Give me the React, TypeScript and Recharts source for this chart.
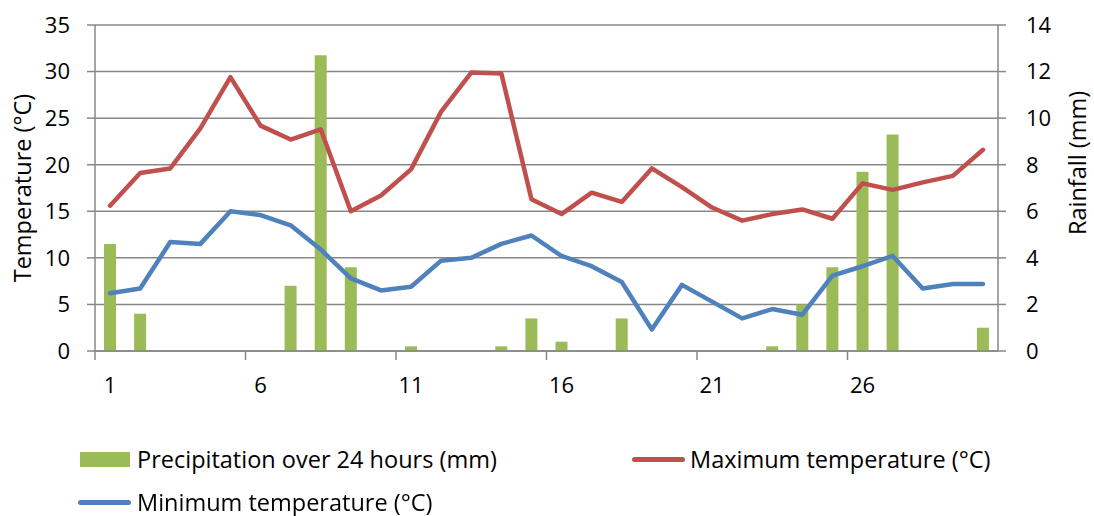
import { ComposedChart, Bar, Line, XAxis, YAxis, CartesianGrid } from 'recharts';

const DAYS = ['1', '2', '3', '4', '5', '6', '7', '8', '9', '10', '11', '12', '13', '14', '15', '16', '17', '18', '19', '20', '21', '22', '23', '24', '25', '26', '27', '28', '29', '30'];
const RAIN = [4.6, 1.6, 0, 0, 0, 0, 2.8, 12.7, 3.6, 0, 0.2, 0, 0, 0.2, 1.4, 0.4, 0, 1.4, 0, 0, 0, 0, 0.2, 2.0, 3.6, 7.7, 9.3, 0, 0, 1.0];
const MAX_TEMP = [15.6, 19.1, 19.6, 23.9, 29.4, 24.2, 22.7, 23.8, 15.0, 16.7, 19.5, 25.7, 29.9, 29.8, 16.3, 14.7, 17.0, 16.0, 19.6, 17.6, 15.4, 14.0, 14.7, 15.2, 14.2, 18.0, 17.3, 18.1, 18.8, 21.6];
const MIN_TEMP = [6.2, 6.7, 11.7, 11.5, 15.0, 14.6, 13.5, 10.9, 7.8, 6.5, 6.9, 9.7, 10.0, 11.5, 12.4, 10.2, 9.1, 7.4, 2.3, 7.1, 5.3, 3.5, 4.5, 3.9, 8.1, 9.1, 10.2, 6.7, 7.2, 7.2];
const TEMP_TICKS = [0, 5, 10, 15, 20, 25, 30, 35];
const RAIN_TICKS = [0, 2, 4, 6, 8, 10, 12, 14];

const GREEN = '#9BBB59';
const RED = '#C0504D';
const BLUE = '#4F81BD';
const GRID = '#878787';
const FONT = '"Open Sans", Lato, sans-serif';
const FS = 22; // tick labels
const FS_TXT = 23.5; // axis titles and legend

const data = DAYS.map((day, i) => ({ day, rain: RAIN[i], max: MAX_TEMP[i], min: MIN_TEMP[i] }));

// Excel style: label centred on the category, tick mark on the category boundary
const DayTick = (props: any) => {
  const { x, y, payload } = props;
  const band = 903 / DAYS.length;
  return (
    <g>
      <line x1={x - band / 2} x2={x - band / 2} y1={y - 8} y2={y + 1} stroke={GRID} strokeWidth={1.5} />
      <text x={x} y={y + 34} textAnchor="middle" fill="#000" fontSize={FS} fontFamily={FONT}>
        {payload.value}
      </text>
    </g>
  );
};

const legendRow = { position: 'absolute' as const, display: 'flex', alignItems: 'center', fontFamily: FONT, fontSize: FS_TXT, lineHeight: '28px', color: '#000' };

export default function App() {
  return (
    <div style={{ position: 'fixed', left: 0, top: 0, width: 1094, height: 516, background: '#fff' }}>
      <ComposedChart width={1094} height={516} data={data} margin={{ top: 25, right: 36, left: 35, bottom: 125 }}>
        <CartesianGrid yAxisId="temp" vertical={false} stroke={GRID} strokeWidth={1.5} />
        <XAxis
          dataKey="day"
          interval={4}
          height={40}
          tick={<DayTick />}
          tickLine={false}
          axisLine={{ stroke: GRID, strokeWidth: 1.5 }}
        />
        <YAxis
          yAxisId="temp"
          width={60}
          domain={[0, 35]}
          ticks={TEMP_TICKS}
          tickSize={8}
          tickMargin={17}
          tickLine={{ stroke: GRID, strokeWidth: 1.5 }}
          axisLine={{ stroke: GRID, strokeWidth: 1.5 }}
          tick={{ fill: '#000', fontSize: FS, fontFamily: FONT }}
          label={{ value: 'Temperature (°C)', angle: -90, position: 'insideLeft', dx: -17, dy: 0, style: { textAnchor: 'middle', fill: '#000', fontSize: FS_TXT, fontFamily: FONT } }}
        />
        <YAxis
          yAxisId="rain"
          orientation="right"
          width={60}
          domain={[0, 14]}
          ticks={RAIN_TICKS}
          tickSize={8}
          tickMargin={20}
          tickLine={{ stroke: GRID, strokeWidth: 1.5 }}
          axisLine={{ stroke: GRID, strokeWidth: 1.5 }}
          tick={{ fill: '#000', fontSize: FS, fontFamily: FONT, textAnchor: 'start' }}
          label={{ value: 'Rainfall (mm)', angle: -90, position: 'insideRight', dx: 25, dy: -25, style: { textAnchor: 'middle', fill: '#000', fontSize: FS_TXT, fontFamily: FONT } }}
        />
        <Bar yAxisId="rain" dataKey="rain" name="Precipitation over 24 hours (mm)" fill={GREEN} barSize={12} isAnimationActive={false} />
        <Line yAxisId="temp" type="linear" dataKey="max" name="Maximum temperature (°C)" stroke={RED} strokeWidth={4.5} strokeLinecap="round" strokeLinejoin="round" dot={false} activeDot={false} isAnimationActive={false} />
        <Line yAxisId="temp" type="linear" dataKey="min" name="Minimum temperature (°C)" stroke={BLUE} strokeWidth={4.5} strokeLinecap="round" strokeLinejoin="round" dot={false} activeDot={false} isAnimationActive={false} />
      </ComposedChart>

      {/* legend, laid out like the Excel original */}
      <div style={{ ...legendRow, left: 80, top: 445 }}>
        <div style={{ width: 50, height: 15, background: GREEN, marginRight: 7 }} />
        <span>Precipitation over 24 hours (mm)</span>
      </div>
      <div style={{ ...legendRow, left: 632, top: 445 }}>
        <div style={{ width: 53, height: 5, background: RED, borderRadius: 3, marginRight: 5 }} />
        <span>Maximum temperature (°C)</span>
      </div>
      <div style={{ ...legendRow, left: 78, top: 488 }}>
        <div style={{ width: 53, height: 5, background: BLUE, borderRadius: 3, marginRight: 6 }} />
        <span>Minimum temperature (°C)</span>
      </div>
    </div>
  );
}
